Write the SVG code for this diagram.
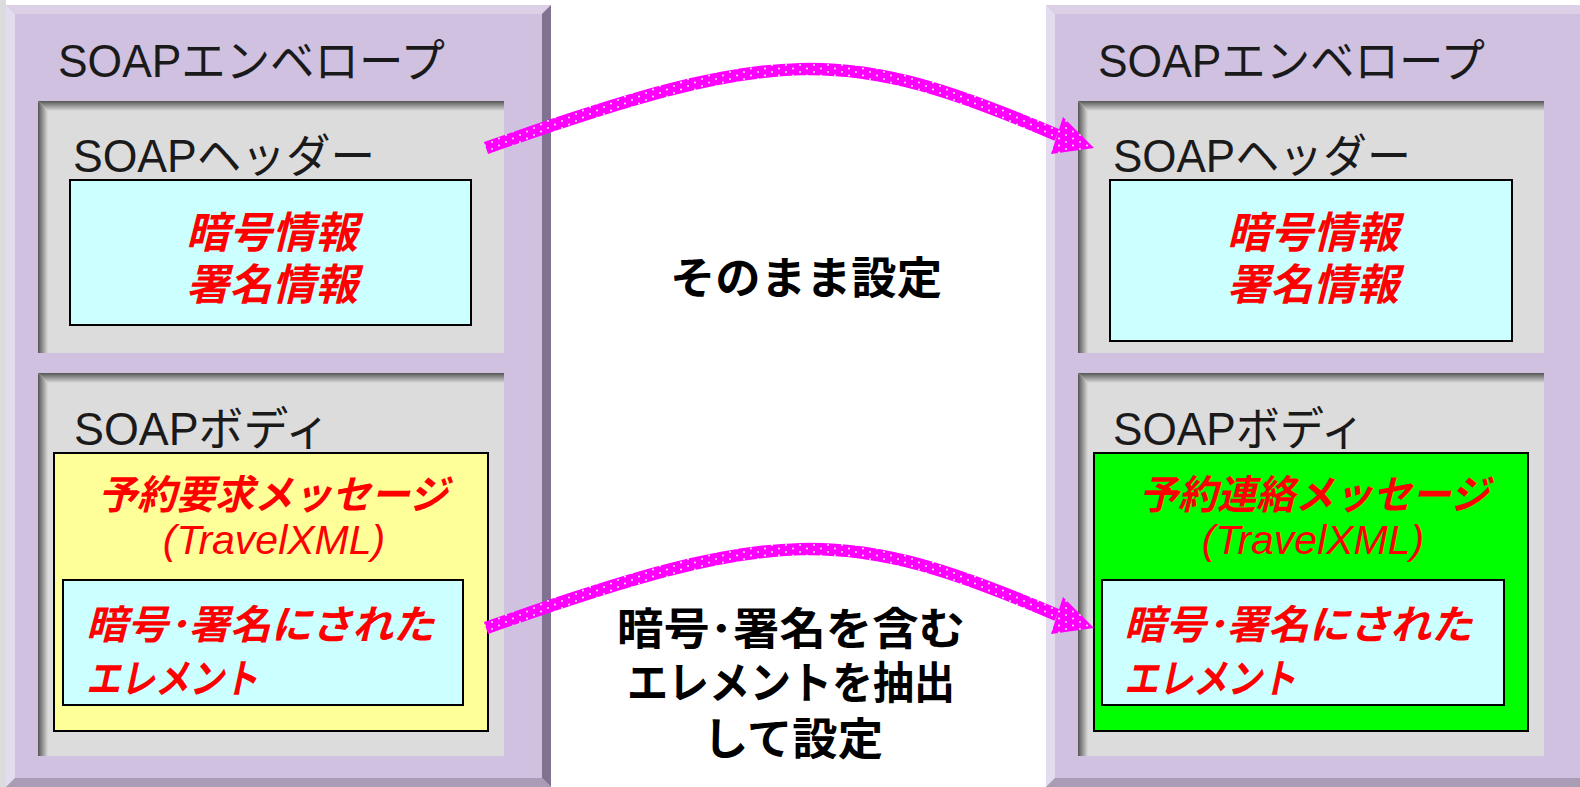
<svg xmlns="http://www.w3.org/2000/svg" width="1580" height="787" viewBox="0 0 1580 787">
<defs>
<style>
.env{fill:#cfc1df}
.bt{fill:#dcd0e6}
.bl{fill:#e3dbee}
.br{fill:#7f738f}
.bb{fill:#a99db5}
.pan{fill:#dcdcdc}
.box{stroke:#000;stroke-width:2}
.lbl{font-family:"Liberation Sans","Noto Sans CJK JP",sans-serif;font-size:46px;fill:#1a1a1a}
.red{font-family:"Liberation Sans","Noto Sans CJK JP",sans-serif;font-weight:bold;font-style:italic;fill:#ff0000}
.redn{font-family:"Liberation Sans","Noto Sans CJK JP",sans-serif;font-style:italic;fill:#ff0000}
.mid{font-family:"Liberation Sans","Noto Sans CJK JP",sans-serif;font-weight:bold;font-size:44px;fill:#000}
</style>
<linearGradient id="gT" x1="0" y1="0" x2="0" y2="1"><stop offset="0" stop-color="#555"/><stop offset="1" stop-color="#dcdcdc"/></linearGradient>
<linearGradient id="gL" x1="0" y1="0" x2="1" y2="0"><stop offset="0" stop-color="#555"/><stop offset="1" stop-color="#dcdcdc"/></linearGradient>
<pattern id="dots" patternUnits="userSpaceOnUse" width="14" height="7">
<rect width="14" height="7" fill="#ff00ff"/>
<circle cx="2" cy="2" r="0.9" fill="#fff"/>
<circle cx="9" cy="5.5" r="0.9" fill="#fff"/>
</pattern>
</defs>
<rect width="1580" height="787" fill="#fff"/>
<rect x="0" y="0" width="6" height="787" fill="#dcdcdc"/>

<g id="env-left">
<rect class="env" x="6" y="5" width="545" height="782"/>
<polygon class="bt" points="6,5 551,5 542,14 15,14"/>
<polygon class="bl" points="6,5 15,14 15,778 6,787"/>
<polygon class="br" points="551,5 551,787 542,778 542,14"/>
<polygon class="bb" points="6,787 15,778 542,778 551,787"/>
<text class="lbl" x="58" y="77" textLength="387" lengthAdjust="spacingAndGlyphs">SOAPエンベロープ</text>
</g>

<g id="hdr-left">
<rect class="pan" x="38" y="101" width="466" height="252"/>
<polygon fill="url(#gT)" points="38,101 504,101 504,111 48,111"/>
<polygon fill="url(#gL)" points="38,101 48,111 48,353 38,353"/>
<text class="lbl" x="73" y="172" textLength="302" lengthAdjust="spacingAndGlyphs">SOAPヘッダー</text>
<rect class="box" x="70" y="180" width="401" height="145" fill="#ccffff"/>
<text class="red" font-size="43" x="272" y="248" text-anchor="middle">暗号情報</text>
<text class="red" font-size="43" x="272" y="300" text-anchor="middle">署名情報</text>
</g>

<g id="body-left">
<rect class="pan" x="38" y="373" width="466" height="383"/>
<polygon fill="url(#gT)" points="38,373 504,373 504,383 48,383"/>
<polygon fill="url(#gL)" points="38,373 48,383 48,756 38,756"/>
<text class="lbl" x="74" y="445" textLength="256" lengthAdjust="spacingAndGlyphs">SOAPボディ</text>
<rect class="box" x="54" y="453" width="434" height="278" fill="#ffff99"/>
<text class="red" font-size="40" x="273" y="509" text-anchor="middle" textLength="350" lengthAdjust="spacingAndGlyphs">予約要求メッセージ</text>
<text class="redn" font-size="41" x="274" y="554" text-anchor="middle">(TravelXML)</text>
<rect class="box" x="63" y="580" width="400" height="125" fill="#ccffff"/>
<text class="red" font-size="40" x="86" y="639" textLength="348" lengthAdjust="spacingAndGlyphs">暗号･署名にされた</text>
<text class="red" font-size="40" x="86" y="693" textLength="172" lengthAdjust="spacingAndGlyphs">エレメント</text>
</g>

<g id="env-right">
<rect class="env" x="1046" y="5" width="560" height="782"/>
<polygon class="bt" points="1046,5 1600,5 1600,14 1055,14"/>
<polygon class="bl" points="1046,5 1055,14 1055,778 1046,787"/>
<polygon class="bb" points="1046,787 1055,778 1600,778 1600,787"/>
<text class="lbl" x="1098" y="77" textLength="387" lengthAdjust="spacingAndGlyphs">SOAPエンベロープ</text>
</g>

<g id="hdr-right">
<rect class="pan" x="1078" y="101" width="466" height="252"/>
<polygon fill="url(#gT)" points="1078,101 1544,101 1544,111 1088,111"/>
<polygon fill="url(#gL)" points="1078,101 1088,111 1088,353 1078,353"/>
<text class="lbl" x="1113" y="172" textLength="298" lengthAdjust="spacingAndGlyphs">SOAPヘッダー</text>
<rect class="box" x="1110" y="180" width="402" height="161" fill="#ccffff"/>
<text class="red" font-size="43" x="1313" y="248" text-anchor="middle">暗号情報</text>
<text class="red" font-size="43" x="1313" y="300" text-anchor="middle">署名情報</text>
</g>

<g id="body-right">
<rect class="pan" x="1078" y="373" width="466" height="383"/>
<polygon fill="url(#gT)" points="1078,373 1544,373 1544,383 1088,383"/>
<polygon fill="url(#gL)" points="1078,373 1088,383 1088,756 1078,756"/>
<text class="lbl" x="1113" y="445" textLength="252" lengthAdjust="spacingAndGlyphs">SOAPボディ</text>
<rect class="box" x="1094" y="453" width="434" height="278" fill="#00ff00"/>
<text class="red" font-size="40" x="1314" y="509" text-anchor="middle" textLength="350" lengthAdjust="spacingAndGlyphs">予約連絡メッセージ</text>
<text class="redn" font-size="41" x="1313" y="554" text-anchor="middle">(TravelXML)</text>
<rect class="box" x="1102" y="580" width="402" height="125" fill="#ccffff"/>
<text class="red" font-size="40" x="1124" y="639" textLength="348" lengthAdjust="spacingAndGlyphs">暗号･署名にされた</text>
<text class="red" font-size="40" x="1124" y="693" textLength="172" lengthAdjust="spacingAndGlyphs">エレメント</text>
</g>

<g id="connectors">
<g id="arrow-top">
<path d="M486,148 C776,46 844,44 1057,135" fill="none" stroke="url(#dots)" stroke-width="12.5"/>
<polygon points="1094,148 1063,117 1051,154" fill="url(#dots)"/>
</g>
<g id="arrow-bottom" transform="translate(0,480)">
<path d="M486,148 C776,46 844,44 1057,135" fill="none" stroke="url(#dots)" stroke-width="12.5"/>
<polygon points="1094,148 1063,117 1051,154" fill="url(#dots)"/>
</g>
</g>

<g id="labels">
<text class="mid" x="806" y="294" text-anchor="middle" textLength="272" lengthAdjust="spacingAndGlyphs">そのまま設定</text>
<text class="mid" x="791" y="645" text-anchor="middle" textLength="348" lengthAdjust="spacingAndGlyphs">暗号･署名を含む</text>
<text class="mid" x="791" y="699" text-anchor="middle" textLength="328" lengthAdjust="spacingAndGlyphs">エレメントを抽出</text>
<text class="mid" x="793" y="755" text-anchor="middle" textLength="180" lengthAdjust="spacingAndGlyphs">して設定</text>
</g>
</svg>
